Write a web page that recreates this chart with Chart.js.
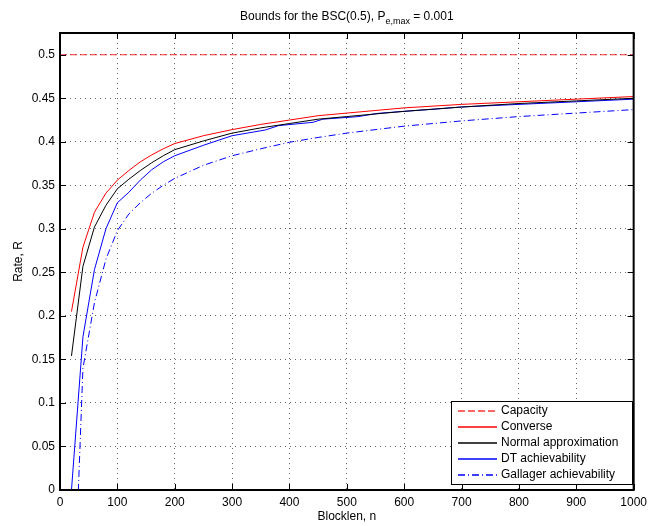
<!DOCTYPE html>
<html>
<head>
<meta charset="utf-8">
<title>Bounds for the BSC(0.5)</title>
<script src="https://cdn.jsdelivr.net/npm/chart.js@4.4.0/dist/chart.umd.min.js"></script>
<style>
    html, body { margin: 0; padding: 0; background: #fff; }
    #chart { display: block; }
</style>
</head>
<body>
<canvas id="chart" width="652" height="526"></canvas>
<script>
// blocklengths and rates
var n = [20, 40, 60, 80, 100, 120, 140, 160, 180, 200, 250, 300, 350, 400, 450, 500, 600, 700, 800, 900, 1000];
var converse = [0.205, 0.279, 0.319, 0.341, 0.356, 0.367, 0.377, 0.385, 0.392, 0.398, 0.407, 0.414, 0.420, 0.425, 0.430, 0.433, 0.439, 0.443, 0.446, 0.449, 0.452];
var normalApprox = [0.154, 0.257, 0.302, 0.327, 0.346, 0.357, 0.367, 0.376, 0.384, 0.391, 0.401, 0.410, 0.416, 0.421, 0.426, 0.429, 0.435, 0.440, 0.444, 0.447, 0.450];
var gallager = [-0.21, 0.14, 0.215, 0.265, 0.298, 0.317, 0.330, 0.341, 0.350, 0.358, 0.373, 0.384, 0.392, 0.3995, 0.405, 0.410, 0.418, 0.424, 0.429, 0.433, 0.437];

var nDT = [20, 40, 60, 80, 100, 120, 140, 160, 180, 200, 250, 300, 358, 381, 441, 458, 519, 554, 600, 657, 700, 800, 900, 1000];
var dt = [0, 0.176, 0.253, 0.300, 0.330, 0.342, 0.356, 0.368, 0.377, 0.384, 0.396, 0.407, 0.4136, 0.4186, 0.4224, 0.426, 0.4289, 0.4327, 0.435, 0.4377, 0.440, 0.443, 0.446, 0.449];

var nCapacity = [0, 1000];
var capacity = [0.5, 0.5];

var xTicks = [0, 100, 200, 300, 400, 500, 600, 700, 800, 900, 1000];
var yTicks = [0, 0.05, 0.1, 0.15, 0.2, 0.25, 0.3, 0.35, 0.4, 0.45, 0.5];

var FONT = '"Liberation Sans", Arial, Helvetica, sans-serif';

// label, color, dash for each curve (also used by the legend box)
var styles = [
    { label: 'Capacity', color: 'rgba(255,0,0,0.8)', dash: [7, 3] },
    { label: 'Converse', color: '#ff0000', dash: [] },
    { label: 'Normal approximation', color: '#000000', dash: [] },
    { label: 'DT achievability', color: '#0000ff', dash: [] },
    { label: 'Gallager achievability', color: '#0000ff', dash: [7, 3, 1, 3] }
];

function pts(xs, ys) {
    return xs.map(function (x, i) { return { x: x, y: ys[i] }; });
}

function line(s, xs, ys) {
    return {
        label: s.label,
        data: pts(xs, ys),
        borderColor: s.color,
        borderWidth: 1,
        borderDash: s.dash,
        pointRadius: 0,
        tension: 0,
        fill: false
    };
}

// axes box, inward ticks, legend and title
var matlabFrame = {
    id: 'matlabFrame',
    afterDraw: function (chart) {
        var ctx = chart.ctx;
        var a = chart.chartArea;
        var xs = chart.scales.x, ys = chart.scales.y;
        var tl = 6;

        ctx.save();
        ctx.strokeStyle = '#000';
        ctx.lineWidth = 1;
        ctx.setLineDash([]);
        ctx.beginPath();
        xTicks.forEach(function (v) {
            var px = Math.round(xs.getPixelForValue(v)) + 0.5;
            ctx.moveTo(px, a.bottom); ctx.lineTo(px, a.bottom - tl);
            ctx.moveTo(px, a.top); ctx.lineTo(px, a.top + tl);
        });
        yTicks.forEach(function (v) {
            var py = Math.round(ys.getPixelForValue(v)) + 0.5;
            ctx.moveTo(a.left, py); ctx.lineTo(a.left + tl, py);
            ctx.moveTo(a.right, py); ctx.lineTo(a.right - tl, py);
        });
        ctx.stroke();

        ctx.lineWidth = 2;
        ctx.strokeRect(a.left, a.top, a.right - a.left, a.bottom - a.top);

        // legend
        var lx = 451, ly = 401, lw = 181, lh = 83;
        ctx.fillStyle = '#fff';
        ctx.fillRect(lx, ly, lw, lh);
        ctx.lineWidth = 1;
        ctx.strokeStyle = '#000';
        ctx.strokeRect(lx + 0.5, ly + 0.5, lw, lh);
        ctx.font = '12px ' + FONT;
        ctx.textBaseline = 'middle';
        ctx.textAlign = 'left';
        styles.forEach(function (s, i) {
            var y = Math.round(ly + 10 + i * 16);
            ctx.strokeStyle = s.color;
            ctx.lineWidth = 1.5;
            ctx.setLineDash(s.dash);
            ctx.beginPath();
            ctx.moveTo(458, y); ctx.lineTo(497, y);
            ctx.stroke();
            ctx.setLineDash([]);
            ctx.fillStyle = '#000';
            ctx.fillText(s.label, 501, y);
        });

        // title with subscript
        var t1 = 'Bounds for the BSC(0.5), P', sub = 'e,max', t2 = ' = 0.001';
        ctx.font = '12px ' + FONT;
        var w1 = ctx.measureText(t1).width, w2 = ctx.measureText(t2).width;
        ctx.font = '9px ' + FONT;
        var ws = ctx.measureText(sub).width;
        var cx = (a.left + a.right) / 2;
        var x0 = cx - (w1 + ws + w2) / 2;
        ctx.fillStyle = '#000';
        ctx.textBaseline = 'alphabetic';
        ctx.font = '12px ' + FONT;
        ctx.fillText(t1, x0, 20);
        ctx.font = '9px ' + FONT;
        ctx.fillText(sub, x0 + w1, 24);
        ctx.font = '12px ' + FONT;
        ctx.fillText(t2, x0 + w1 + ws, 20);
        ctx.restore();
    }
};

var options = {
    type: 'line',
    data: {
        datasets: [
            line(styles[0], nCapacity, capacity),
            line(styles[1], n, converse),
            line(styles[2], n, normalApprox),
            line(styles[3], nDT, dt),
            line(styles[4], n, gallager)
        ]
    },
    options: {
        responsive: false,
        animation: false,
        layout: {
            padding: { top: 33, right: 14, bottom: 2, left: 0 }
        },
        plugins: {
            legend: { display: false },
            title: { display: false },
            tooltip: { enabled: false }
        },
        scales: {
            x: {
                type: 'linear',
                min: 0,
                max: 1000,
                afterFit: function (scale) { scale.height = 34; },
                afterBuildTicks: function (scale) {
                    scale.ticks = xTicks.map(function (v) { return { value: v }; });
                },
                ticks: {
                    autoSkip: false,
                    maxRotation: 0,
                    padding: 5,
                    color: '#000',
                    font: { family: FONT, size: 12 },
                    callback: function (v) { return String(v); }
                },
                grid: {
                    color: 'rgba(0,0,0,0.6)',
                    drawTicks: false
                },
                border: { display: false, dash: [1, 4] },
                title: {
                    display: true,
                    text: 'Blocklen, n',
                    color: '#000',
                    padding: { top: 0, bottom: 0 },
                    font: { family: FONT, size: 12 }
                }
            },
            y: {
                type: 'linear',
                min: 0,
                max: 0.525,
                afterFit: function (scale) { scale.width = 60; },
                afterBuildTicks: function (scale) {
                    scale.ticks = yTicks.map(function (v) { return { value: v }; });
                },
                ticks: {
                    autoSkip: false,
                    padding: 5,
                    color: '#000',
                    font: { family: FONT, size: 12 },
                    callback: function (v) { return String(+v.toFixed(2)); }
                },
                grid: {
                    color: 'rgba(0,0,0,0.6)',
                    drawTicks: false
                },
                border: { display: false, dash: [1, 4] },
                title: {
                    display: true,
                    text: 'Rate, R',
                    color: '#000',
                    padding: { top: 11, bottom: 0 },
                    font: { family: FONT, size: 12 }
                }
            }
        }
    },
    plugins: [matlabFrame]
};

var chart = new Chart(document.getElementById('chart'), options);
</script>
</body>
</html>
